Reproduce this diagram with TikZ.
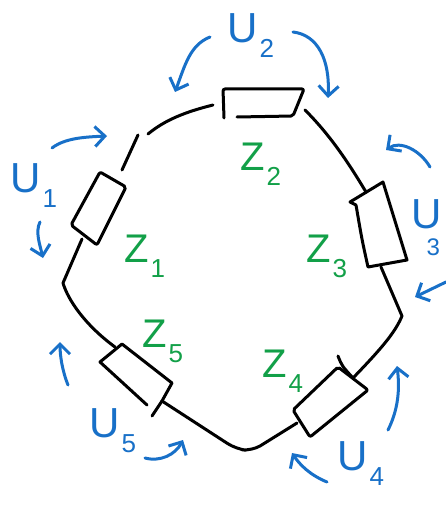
\documentclass[tikz,border=0pt]{standalone}
\usepackage{fontspec}
\setmainfont{Liberation Sans}
\usetikzlibrary{arrows.meta}
\definecolor{inkblue}{RGB}{24,112,200}
\definecolor{inkgreen}{RGB}{18,160,72}
\newcommand{\sublab}[2]{#1\hspace{2pt}\raisebox{-15pt}{\fontsize{26}{26}\selectfont #2}}
\newcommand{\sublabtight}[2]{#1\hspace{-15pt}\raisebox{-27pt}{\fontsize{24}{24}\selectfont #2}}
\begin{document}
\begin{tikzpicture}[x=1pt,y=-1pt,
  wire/.style={line width=3pt,line cap=round,line join=round,black},
  flow/.style={line width=3pt,line cap=round,line join=round,inkblue,-{Straight Barb[length=10pt,width=20pt]}},
  ulab/.style={inkblue,font=\fontsize{42}{42}\selectfont,anchor=base west,inner sep=0pt},
  zlab/.style={inkgreen,font=\fontsize{40}{40}\selectfont,anchor=base west,inner sep=0pt}]
\useasboundingbox[fill=white] (0,0) rectangle (445,505);
% ---- loop with five boxes ----
% Z2 box (top)
\draw[wire,rounded corners=2pt] (224,118) -- (223,89) -- (304,89) -- (293,116) -- (237,117);
\draw[wire] (213,105) .. controls (185,112) and (165,120) .. (148,134);
\draw[wire] (138,135) -- (122,170);
% Z1 box
\draw[wire,rounded corners=2pt] (100,172) -- (126,187) -- (97,245) -- (71,225) -- cycle;
\draw[wire] (82,239) -- (63,283) .. controls (68,300) and (85,325) .. (115,347);
% Z5 box
\draw[wire] (147,405) -- (100,362) -- (122,344) -- (172,383) -- (162,401);
\draw[wire] (152,416) -- (162,401);
\draw[wire,rounded corners=10pt] (162,401) -- (236,449) -- (252,451) -- (297,423);
% Z4 box
\draw[wire,rounded corners=2pt] (293,410) -- (338,367) -- (368,390) -- (310,437) -- cycle;
\draw[wire] (338,356) .. controls (342,366) .. (353,378);
\draw[wire] (353,378) .. controls (380,350) and (395,333) .. (402,316) -- (381,267);
% Z3 box
\draw[wire] (356,205) -- (350,202) -- (383,182) -- (407,260) -- (368,267) .. controls (362,240) .. (356,205);
\draw[wire] (305,110) .. controls (330,135) and (348,162) .. (366,192);
% ---- blue labels and arrows ----
\node[ulab] (u2) at (227,43) {\sublab{U}{2}};
\draw[flow] (210,37) .. controls (190,45) and (185,65) .. (175,92);
\draw[flow] (293,32) .. controls (318,35) and (330,60) .. (328,98);
\node[ulab] (u1) at (10,192) {\sublab{U}{1}};
\draw[flow] (52,148) .. controls (65,138) and (85,137) .. (107,136);
\draw[flow] (40,222) .. controls (35,232) and (40,245) .. (43,258);
\node[ulab] (u3) at (411,228) {\sublabtight{U}{3}};
\draw[flow] (430,167) .. controls (420,150) and (400,140) .. (386,150);
\draw[flow] (446,282) -- (415,297);
\node[ulab] (u4) at (337,470) {\sublab{U}{4}};
\draw[flow] (388,430) .. controls (398,410) and (400,390) .. (397,366);
\draw[flow] (327,482) .. controls (310,475) and (300,465) .. (292,453);
\node[ulab] (u5) at (89,437) {\sublab{U}{5}};
\draw[flow] (68,385) .. controls (62,370) and (60,355) .. (60,342);
\draw[flow] (145,458) .. controls (160,462) and (175,455) .. (183,440);
% ---- green labels ----
\node[zlab] (z2) at (240,170) {\sublab{Z}{2}};
\node[zlab] (z1) at (124,262) {\sublab{Z}{1}};
\node[zlab] (z3) at (306,262) {\sublab{Z}{3}};
\node[zlab] (z5) at (142,347) {\sublab{Z}{5}};
\node[zlab] (z4) at (262,377) {\sublab{Z}{4}};
\end{tikzpicture}
\end{document}
